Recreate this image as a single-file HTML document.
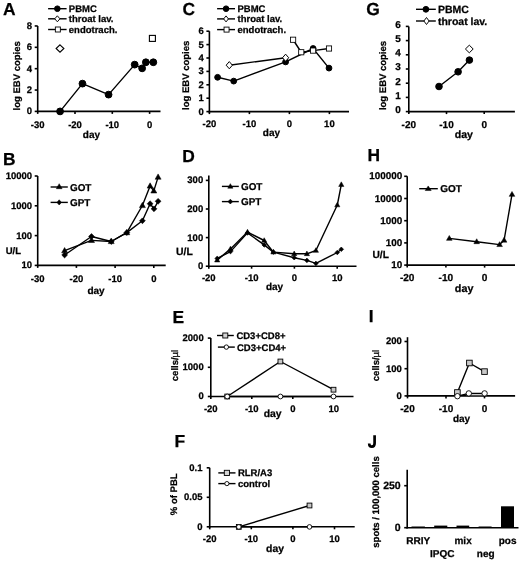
<!DOCTYPE html>
<html><head><meta charset="utf-8"><style>
html,body{margin:0;padding:0;background:#fff;}
body{width:520px;height:562px;overflow:hidden;}
svg{display:block;font-family:"Liberation Sans",sans-serif;will-change:transform;text-rendering:geometricPrecision;}
text{stroke:#000;stroke-width:0.25px;}
</style></head><body>
<svg width="520" height="562" viewBox="0 0 520 562">
<rect width="520" height="562" fill="#fff"/>
<text x="3.00" y="14.53" font-size="17.4" text-anchor="start" font-weight="bold">A</text>
<line x1="37.70" y1="25.96" x2="37.70" y2="112.20" stroke="#000" stroke-width="1.6"/>
<line x1="34.70" y1="111.40" x2="37.70" y2="111.40" stroke="#000" stroke-width="1.6"/>
<text x="32.10" y="114.32" font-size="9.5" text-anchor="end" font-weight="bold">0</text>
<line x1="34.70" y1="90.04" x2="37.70" y2="90.04" stroke="#000" stroke-width="1.6"/>
<text x="32.10" y="92.96" font-size="9.5" text-anchor="end" font-weight="bold">2</text>
<line x1="34.70" y1="68.68" x2="37.70" y2="68.68" stroke="#000" stroke-width="1.6"/>
<text x="32.10" y="71.60" font-size="9.5" text-anchor="end" font-weight="bold">4</text>
<line x1="34.70" y1="47.32" x2="37.70" y2="47.32" stroke="#000" stroke-width="1.6"/>
<text x="32.10" y="50.24" font-size="9.5" text-anchor="end" font-weight="bold">6</text>
<line x1="34.70" y1="25.96" x2="37.70" y2="25.96" stroke="#000" stroke-width="1.6"/>
<text x="32.10" y="28.88" font-size="9.5" text-anchor="end" font-weight="bold">8</text>
<line x1="36.90" y1="111.40" x2="160.50" y2="111.40" stroke="#000" stroke-width="1.6"/>
<line x1="37.70" y1="111.40" x2="37.70" y2="113.90" stroke="#000" stroke-width="1.6"/>
<text x="37.70" y="128.12" font-size="9.5" text-anchor="middle" font-weight="bold">-30</text>
<line x1="75.00" y1="111.40" x2="75.00" y2="113.90" stroke="#000" stroke-width="1.6"/>
<text x="75.00" y="128.12" font-size="9.5" text-anchor="middle" font-weight="bold">-20</text>
<line x1="112.30" y1="111.40" x2="112.30" y2="113.90" stroke="#000" stroke-width="1.6"/>
<text x="112.30" y="128.12" font-size="9.5" text-anchor="middle" font-weight="bold">-10</text>
<line x1="149.60" y1="111.40" x2="149.60" y2="113.90" stroke="#000" stroke-width="1.6"/>
<text x="149.60" y="128.12" font-size="9.5" text-anchor="middle" font-weight="bold">0</text>
<text transform="translate(20.47,75.80) rotate(-90)" font-size="9.5" text-anchor="middle" font-weight="bold">log EBV copies</text>
<text x="91.40" y="137.90" font-size="10.0" text-anchor="middle" font-weight="bold">day</text>
<line x1="48.10" y1="8.70" x2="66.60" y2="8.70" stroke="#000" stroke-width="1.4"/>
<circle cx="57.35" cy="8.70" r="2.8" fill="#000" stroke="#000" stroke-width="1.0"/>
<text x="68.80" y="12.12" font-size="9.5" text-anchor="start" font-weight="bold">PBMC</text>
<line x1="48.10" y1="18.80" x2="66.60" y2="18.80" stroke="#000" stroke-width="1.4"/>
<path d="M57.35 15.80L59.95 18.80L57.35 21.80L54.75 18.80Z" fill="#fff" stroke="#000" stroke-width="0.95"/>
<text x="68.80" y="22.22" font-size="9.5" text-anchor="start" font-weight="bold">throat lav.</text>
<line x1="48.10" y1="29.50" x2="66.60" y2="29.50" stroke="#000" stroke-width="1.4"/>
<rect x="55.35" y="27.00" width="5.00" height="5.00" fill="#fff" stroke="#000" stroke-width="0.9"/>
<text x="68.80" y="32.92" font-size="9.5" text-anchor="start" font-weight="bold">endotrach.</text>
<polyline points="60.08,111.40 82.46,83.63 108.57,94.63 134.68,64.62 142.14,68.36 145.87,62.27 153.33,62.27" fill="none" stroke="#000" stroke-width="1.4" stroke-linejoin="round"/>
<circle cx="60.08" cy="111.40" r="3.4" fill="#000" stroke="#000" stroke-width="1.0"/>
<circle cx="82.46" cy="83.63" r="3.4" fill="#000" stroke="#000" stroke-width="1.0"/>
<circle cx="108.57" cy="94.63" r="3.4" fill="#000" stroke="#000" stroke-width="1.0"/>
<circle cx="134.68" cy="64.62" r="3.4" fill="#000" stroke="#000" stroke-width="1.0"/>
<circle cx="142.14" cy="68.36" r="3.4" fill="#000" stroke="#000" stroke-width="1.0"/>
<circle cx="145.87" cy="62.27" r="3.4" fill="#000" stroke="#000" stroke-width="1.0"/>
<circle cx="153.33" cy="62.27" r="3.4" fill="#000" stroke="#000" stroke-width="1.0"/>
<path d="M60.00 44.80L63.90 48.50L60.00 52.20L56.10 48.50Z" fill="#fff" stroke="#000" stroke-width="1.1"/>
<rect x="149.40" y="35.40" width="6.00" height="6.00" fill="#fff" stroke="#000" stroke-width="1.1"/>
<text x="3.00" y="164.93" font-size="17.4" text-anchor="start" font-weight="bold">B</text>
<line x1="37.70" y1="176.00" x2="37.70" y2="266.20" stroke="#000" stroke-width="1.6"/>
<line x1="34.70" y1="265.40" x2="37.70" y2="265.40" stroke="#000" stroke-width="1.6"/>
<text x="32.10" y="268.32" font-size="9.5" text-anchor="end" font-weight="bold">10</text>
<line x1="34.70" y1="235.60" x2="37.70" y2="235.60" stroke="#000" stroke-width="1.6"/>
<text x="32.10" y="238.52" font-size="9.5" text-anchor="end" font-weight="bold">100</text>
<line x1="34.70" y1="205.80" x2="37.70" y2="205.80" stroke="#000" stroke-width="1.6"/>
<text x="32.10" y="208.72" font-size="9.5" text-anchor="end" font-weight="bold">1000</text>
<line x1="34.70" y1="176.00" x2="37.70" y2="176.00" stroke="#000" stroke-width="1.6"/>
<text x="32.10" y="178.92" font-size="9.5" text-anchor="end" font-weight="bold">10000</text>
<line x1="36.90" y1="265.40" x2="165.70" y2="265.40" stroke="#000" stroke-width="1.6"/>
<line x1="37.70" y1="265.40" x2="37.70" y2="267.90" stroke="#000" stroke-width="1.6"/>
<text x="37.70" y="281.62" font-size="9.5" text-anchor="middle" font-weight="bold">-30</text>
<line x1="76.40" y1="265.40" x2="76.40" y2="267.90" stroke="#000" stroke-width="1.6"/>
<text x="76.40" y="281.62" font-size="9.5" text-anchor="middle" font-weight="bold">-20</text>
<line x1="115.10" y1="265.40" x2="115.10" y2="267.90" stroke="#000" stroke-width="1.6"/>
<text x="115.10" y="281.62" font-size="9.5" text-anchor="middle" font-weight="bold">-10</text>
<line x1="153.80" y1="265.40" x2="153.80" y2="267.90" stroke="#000" stroke-width="1.6"/>
<text x="153.80" y="281.62" font-size="9.5" text-anchor="middle" font-weight="bold">0</text>
<text x="13.40" y="254.42" font-size="9.5" text-anchor="middle" font-weight="bold">U/L</text>
<text x="96.00" y="293.70" font-size="10.0" text-anchor="middle" font-weight="bold">day</text>
<line x1="50.60" y1="187.00" x2="67.80" y2="187.00" stroke="#000" stroke-width="1.4"/>
<path d="M59.20 183.70L62.10 188.70L56.30 188.70Z" fill="#000" stroke="#000" stroke-width="0.5" stroke-linejoin="miter"/>
<text x="70.00" y="190.56" font-size="9.9" text-anchor="start" font-weight="bold">GOT</text>
<line x1="50.60" y1="202.40" x2="67.80" y2="202.40" stroke="#000" stroke-width="1.4"/>
<path d="M59.20 199.80L61.40 202.40L59.20 205.00L57.00 202.40Z" fill="#000" stroke="#000" stroke-width="0.6"/>
<text x="70.00" y="205.96" font-size="9.9" text-anchor="start" font-weight="bold">GPT</text>
<polyline points="64.60,250.70 91.50,240.40 111.20,241.50 126.80,232.60 142.40,205.50 150.10,186.00 153.80,190.90 158.10,177.10" fill="none" stroke="#000" stroke-width="1.4" stroke-linejoin="round"/>
<polyline points="64.60,255.00 91.50,236.50 111.20,241.50 126.80,232.60 142.40,220.80 150.10,203.70 154.00,208.80 158.10,201.30" fill="none" stroke="#000" stroke-width="1.4" stroke-linejoin="round"/>
<path d="M64.60 247.52L67.60 252.82L61.60 252.82Z" fill="#000" stroke="#000" stroke-width="0.5" stroke-linejoin="miter"/>
<path d="M91.50 237.22L94.50 242.52L88.50 242.52Z" fill="#000" stroke="#000" stroke-width="0.5" stroke-linejoin="miter"/>
<path d="M111.20 238.32L114.20 243.62L108.20 243.62Z" fill="#000" stroke="#000" stroke-width="0.5" stroke-linejoin="miter"/>
<path d="M126.80 229.42L129.80 234.72L123.80 234.72Z" fill="#000" stroke="#000" stroke-width="0.5" stroke-linejoin="miter"/>
<path d="M142.40 202.32L145.40 207.62L139.40 207.62Z" fill="#000" stroke="#000" stroke-width="0.5" stroke-linejoin="miter"/>
<path d="M150.10 182.82L153.10 188.12L147.10 188.12Z" fill="#000" stroke="#000" stroke-width="0.5" stroke-linejoin="miter"/>
<path d="M153.80 187.72L156.80 193.02L150.80 193.02Z" fill="#000" stroke="#000" stroke-width="0.5" stroke-linejoin="miter"/>
<path d="M158.10 173.92L161.10 179.22L155.10 179.22Z" fill="#000" stroke="#000" stroke-width="0.5" stroke-linejoin="miter"/>
<path d="M64.60 252.10L67.50 255.00L64.60 257.90L61.70 255.00Z" fill="#000" stroke="#000" stroke-width="0.6"/>
<path d="M91.50 233.60L94.40 236.50L91.50 239.40L88.60 236.50Z" fill="#000" stroke="#000" stroke-width="0.6"/>
<path d="M111.20 238.60L114.10 241.50L111.20 244.40L108.30 241.50Z" fill="#000" stroke="#000" stroke-width="0.6"/>
<path d="M126.80 229.70L129.70 232.60L126.80 235.50L123.90 232.60Z" fill="#000" stroke="#000" stroke-width="0.6"/>
<path d="M142.40 217.90L145.30 220.80L142.40 223.70L139.50 220.80Z" fill="#000" stroke="#000" stroke-width="0.6"/>
<path d="M150.10 200.80L153.00 203.70L150.10 206.60L147.20 203.70Z" fill="#000" stroke="#000" stroke-width="0.6"/>
<path d="M154.00 205.90L156.90 208.80L154.00 211.70L151.10 208.80Z" fill="#000" stroke="#000" stroke-width="0.6"/>
<path d="M158.10 198.40L161.00 201.30L158.10 204.20L155.20 201.30Z" fill="#000" stroke="#000" stroke-width="0.6"/>
<text x="182.50" y="14.83" font-size="17.4" text-anchor="start" font-weight="bold">C</text>
<line x1="209.40" y1="31.20" x2="209.40" y2="112.40" stroke="#000" stroke-width="1.6"/>
<line x1="206.40" y1="111.60" x2="209.40" y2="111.60" stroke="#000" stroke-width="1.6"/>
<text x="203.80" y="114.52" font-size="9.5" text-anchor="end" font-weight="bold">0</text>
<line x1="206.40" y1="98.20" x2="209.40" y2="98.20" stroke="#000" stroke-width="1.6"/>
<text x="203.80" y="101.12" font-size="9.5" text-anchor="end" font-weight="bold">1</text>
<line x1="206.40" y1="84.80" x2="209.40" y2="84.80" stroke="#000" stroke-width="1.6"/>
<text x="203.80" y="87.72" font-size="9.5" text-anchor="end" font-weight="bold">2</text>
<line x1="206.40" y1="71.40" x2="209.40" y2="71.40" stroke="#000" stroke-width="1.6"/>
<text x="203.80" y="74.32" font-size="9.5" text-anchor="end" font-weight="bold">3</text>
<line x1="206.40" y1="58.00" x2="209.40" y2="58.00" stroke="#000" stroke-width="1.6"/>
<text x="203.80" y="60.92" font-size="9.5" text-anchor="end" font-weight="bold">4</text>
<line x1="206.40" y1="44.60" x2="209.40" y2="44.60" stroke="#000" stroke-width="1.6"/>
<text x="203.80" y="47.52" font-size="9.5" text-anchor="end" font-weight="bold">5</text>
<line x1="206.40" y1="31.20" x2="209.40" y2="31.20" stroke="#000" stroke-width="1.6"/>
<text x="203.80" y="34.12" font-size="9.5" text-anchor="end" font-weight="bold">6</text>
<line x1="208.60" y1="111.60" x2="349.00" y2="111.60" stroke="#000" stroke-width="1.6"/>
<line x1="209.40" y1="111.60" x2="209.40" y2="114.10" stroke="#000" stroke-width="1.6"/>
<text x="209.40" y="126.82" font-size="9.5" text-anchor="middle" font-weight="bold">-20</text>
<line x1="249.40" y1="111.60" x2="249.40" y2="114.10" stroke="#000" stroke-width="1.6"/>
<text x="249.40" y="126.82" font-size="9.5" text-anchor="middle" font-weight="bold">-10</text>
<line x1="289.40" y1="111.60" x2="289.40" y2="114.10" stroke="#000" stroke-width="1.6"/>
<text x="289.40" y="126.82" font-size="9.5" text-anchor="middle" font-weight="bold">0</text>
<line x1="329.40" y1="111.60" x2="329.40" y2="114.10" stroke="#000" stroke-width="1.6"/>
<text x="329.40" y="126.82" font-size="9.5" text-anchor="middle" font-weight="bold">10</text>
<text transform="translate(189.37,75.30) rotate(-90)" font-size="9.5" text-anchor="middle" font-weight="bold">log EBV copies</text>
<text x="271.40" y="135.70" font-size="10.0" text-anchor="middle" font-weight="bold">day</text>
<line x1="217.10" y1="8.70" x2="235.00" y2="8.70" stroke="#000" stroke-width="1.4"/>
<circle cx="226.05" cy="8.70" r="2.8" fill="#000" stroke="#000" stroke-width="1.0"/>
<text x="237.50" y="12.12" font-size="9.5" text-anchor="start" font-weight="bold">PBMC</text>
<line x1="217.10" y1="18.90" x2="235.00" y2="18.90" stroke="#000" stroke-width="1.4"/>
<path d="M226.05 15.90L228.45 18.90L226.05 21.90L223.65 18.90Z" fill="#fff" stroke="#000" stroke-width="0.95"/>
<text x="237.50" y="22.32" font-size="9.5" text-anchor="start" font-weight="bold">throat lav.</text>
<line x1="217.10" y1="29.60" x2="235.00" y2="29.60" stroke="#000" stroke-width="1.4"/>
<rect x="224.05" y="27.10" width="5.00" height="5.00" fill="#fff" stroke="#000" stroke-width="0.9"/>
<text x="237.50" y="33.02" font-size="9.5" text-anchor="start" font-weight="bold">endotrach.</text>
<polyline points="217.60,77.30 233.70,81.10 285.60,61.90 313.10,48.50 329.00,68.10" fill="none" stroke="#000" stroke-width="1.4" stroke-linejoin="round"/>
<polyline points="229.30,65.20 285.60,57.75" fill="none" stroke="#000" stroke-width="1.4" stroke-linejoin="round"/>
<polyline points="293.10,39.75 301.25,52.25 313.10,50.60 329.00,48.50" fill="none" stroke="#000" stroke-width="1.4" stroke-linejoin="round"/>
<circle cx="217.60" cy="77.30" r="2.9" fill="#000" stroke="#000" stroke-width="1.0"/>
<circle cx="233.70" cy="81.10" r="2.9" fill="#000" stroke="#000" stroke-width="1.0"/>
<circle cx="285.60" cy="61.90" r="2.9" fill="#000" stroke="#000" stroke-width="1.0"/>
<circle cx="313.10" cy="48.50" r="2.9" fill="#000" stroke="#000" stroke-width="1.0"/>
<circle cx="329.00" cy="68.10" r="2.9" fill="#000" stroke="#000" stroke-width="1.0"/>
<path d="M229.30 61.60L232.40 65.20L229.30 68.80L226.20 65.20Z" fill="#fff" stroke="#000" stroke-width="1.0"/>
<path d="M285.60 54.15L288.70 57.75L285.60 61.35L282.50 57.75Z" fill="#fff" stroke="#000" stroke-width="1.0"/>
<rect x="290.50" y="37.15" width="5.20" height="5.20" fill="#fff" stroke="#000" stroke-width="0.85"/>
<rect x="298.65" y="49.65" width="5.20" height="5.20" fill="#fff" stroke="#000" stroke-width="0.85"/>
<rect x="310.50" y="48.00" width="5.20" height="5.20" fill="#fff" stroke="#000" stroke-width="0.85"/>
<rect x="326.40" y="45.90" width="5.20" height="5.20" fill="#fff" stroke="#000" stroke-width="0.85"/>
<text x="182.30" y="162.23" font-size="17.4" text-anchor="start" font-weight="bold">D</text>
<line x1="208.80" y1="175.50" x2="208.80" y2="267.00" stroke="#000" stroke-width="1.6"/>
<line x1="205.80" y1="266.20" x2="208.80" y2="266.20" stroke="#000" stroke-width="1.6"/>
<text x="203.20" y="269.12" font-size="9.5" text-anchor="end" font-weight="bold">0</text>
<line x1="205.80" y1="237.60" x2="208.80" y2="237.60" stroke="#000" stroke-width="1.6"/>
<text x="203.20" y="240.52" font-size="9.5" text-anchor="end" font-weight="bold">100</text>
<line x1="205.80" y1="209.00" x2="208.80" y2="209.00" stroke="#000" stroke-width="1.6"/>
<text x="203.20" y="211.92" font-size="9.5" text-anchor="end" font-weight="bold">200</text>
<line x1="205.80" y1="180.40" x2="208.80" y2="180.40" stroke="#000" stroke-width="1.6"/>
<text x="203.20" y="183.32" font-size="9.5" text-anchor="end" font-weight="bold">300</text>
<line x1="208.00" y1="266.20" x2="356.50" y2="266.20" stroke="#000" stroke-width="1.6"/>
<line x1="208.80" y1="266.20" x2="208.80" y2="268.70" stroke="#000" stroke-width="1.6"/>
<text x="208.80" y="281.22" font-size="9.5" text-anchor="middle" font-weight="bold">-20</text>
<line x1="251.60" y1="266.20" x2="251.60" y2="268.70" stroke="#000" stroke-width="1.6"/>
<text x="251.60" y="281.22" font-size="9.5" text-anchor="middle" font-weight="bold">-10</text>
<line x1="294.40" y1="266.20" x2="294.40" y2="268.70" stroke="#000" stroke-width="1.6"/>
<text x="294.40" y="281.22" font-size="9.5" text-anchor="middle" font-weight="bold">0</text>
<line x1="337.20" y1="266.20" x2="337.20" y2="268.70" stroke="#000" stroke-width="1.6"/>
<text x="337.20" y="281.22" font-size="9.5" text-anchor="middle" font-weight="bold">10</text>
<text x="184.40" y="254.64" font-size="10.4" text-anchor="middle" font-weight="bold">U/L</text>
<text x="274.50" y="289.60" font-size="10.0" text-anchor="middle" font-weight="bold">day</text>
<line x1="221.90" y1="186.40" x2="238.80" y2="186.40" stroke="#000" stroke-width="1.4"/>
<path d="M230.35 183.67L232.95 188.22L227.75 188.22Z" fill="#000" stroke="#000" stroke-width="0.5" stroke-linejoin="miter"/>
<text x="241.00" y="189.96" font-size="9.9" text-anchor="start" font-weight="bold">GOT</text>
<line x1="221.90" y1="201.60" x2="238.80" y2="201.60" stroke="#000" stroke-width="1.4"/>
<path d="M230.35 199.20L232.75 201.60L230.35 204.00L227.95 201.60Z" fill="#000" stroke="#000" stroke-width="0.6"/>
<text x="241.00" y="205.16" font-size="9.9" text-anchor="start" font-weight="bold">GPT</text>
<polyline points="217.20,260.10 230.50,248.90 247.50,232.10 264.20,240.50 273.40,252.10 294.20,253.80 306.90,253.80 315.90,250.50 337.30,205.00 341.30,184.60" fill="none" stroke="#000" stroke-width="1.4" stroke-linejoin="round"/>
<polyline points="217.20,258.40 230.50,251.60 247.50,232.90 264.20,244.90 273.40,252.10 294.20,257.70 306.90,260.40 315.90,263.40 337.30,252.50 341.30,249.30" fill="none" stroke="#000" stroke-width="1.4" stroke-linejoin="round"/>
<path d="M217.20 257.34L219.80 261.94L214.60 261.94Z" fill="#000" stroke="#000" stroke-width="0.5" stroke-linejoin="miter"/>
<path d="M230.50 246.14L233.10 250.74L227.90 250.74Z" fill="#000" stroke="#000" stroke-width="0.5" stroke-linejoin="miter"/>
<path d="M247.50 229.34L250.10 233.94L244.90 233.94Z" fill="#000" stroke="#000" stroke-width="0.5" stroke-linejoin="miter"/>
<path d="M264.20 237.74L266.80 242.34L261.60 242.34Z" fill="#000" stroke="#000" stroke-width="0.5" stroke-linejoin="miter"/>
<path d="M273.40 249.34L276.00 253.94L270.80 253.94Z" fill="#000" stroke="#000" stroke-width="0.5" stroke-linejoin="miter"/>
<path d="M294.20 251.04L296.80 255.64L291.60 255.64Z" fill="#000" stroke="#000" stroke-width="0.5" stroke-linejoin="miter"/>
<path d="M306.90 251.04L309.50 255.64L304.30 255.64Z" fill="#000" stroke="#000" stroke-width="0.5" stroke-linejoin="miter"/>
<path d="M315.90 247.74L318.50 252.34L313.30 252.34Z" fill="#000" stroke="#000" stroke-width="0.5" stroke-linejoin="miter"/>
<path d="M337.30 202.24L339.90 206.84L334.70 206.84Z" fill="#000" stroke="#000" stroke-width="0.5" stroke-linejoin="miter"/>
<path d="M341.30 181.84L343.90 186.44L338.70 186.44Z" fill="#000" stroke="#000" stroke-width="0.5" stroke-linejoin="miter"/>
<path d="M217.20 256.10L219.50 258.40L217.20 260.70L214.90 258.40Z" fill="#000" stroke="#000" stroke-width="0.6"/>
<path d="M230.50 249.30L232.80 251.60L230.50 253.90L228.20 251.60Z" fill="#000" stroke="#000" stroke-width="0.6"/>
<path d="M247.50 230.60L249.80 232.90L247.50 235.20L245.20 232.90Z" fill="#000" stroke="#000" stroke-width="0.6"/>
<path d="M264.20 242.60L266.50 244.90L264.20 247.20L261.90 244.90Z" fill="#000" stroke="#000" stroke-width="0.6"/>
<path d="M273.40 249.80L275.70 252.10L273.40 254.40L271.10 252.10Z" fill="#000" stroke="#000" stroke-width="0.6"/>
<path d="M294.20 255.40L296.50 257.70L294.20 260.00L291.90 257.70Z" fill="#000" stroke="#000" stroke-width="0.6"/>
<path d="M306.90 258.10L309.20 260.40L306.90 262.70L304.60 260.40Z" fill="#000" stroke="#000" stroke-width="0.6"/>
<path d="M315.90 261.10L318.20 263.40L315.90 265.70L313.60 263.40Z" fill="#000" stroke="#000" stroke-width="0.6"/>
<path d="M337.30 250.20L339.60 252.50L337.30 254.80L335.00 252.50Z" fill="#000" stroke="#000" stroke-width="0.6"/>
<path d="M341.30 247.00L343.60 249.30L341.30 251.60L339.00 249.30Z" fill="#000" stroke="#000" stroke-width="0.6"/>
<text x="172.40" y="322.53" font-size="17.4" text-anchor="start" font-weight="bold">E</text>
<line x1="210.80" y1="338.10" x2="210.80" y2="397.30" stroke="#000" stroke-width="1.6"/>
<line x1="207.80" y1="396.50" x2="210.80" y2="396.50" stroke="#000" stroke-width="1.6"/>
<text x="203.70" y="399.42" font-size="9.5" text-anchor="end" font-weight="bold">0</text>
<line x1="207.80" y1="367.30" x2="210.80" y2="367.30" stroke="#000" stroke-width="1.6"/>
<text x="203.70" y="370.22" font-size="9.5" text-anchor="end" font-weight="bold">1000</text>
<line x1="207.80" y1="338.10" x2="210.80" y2="338.10" stroke="#000" stroke-width="1.6"/>
<text x="203.70" y="341.02" font-size="9.5" text-anchor="end" font-weight="bold">2000</text>
<line x1="210.00" y1="396.50" x2="353.50" y2="396.50" stroke="#000" stroke-width="1.6"/>
<line x1="210.80" y1="396.50" x2="210.80" y2="399.00" stroke="#000" stroke-width="1.6"/>
<text x="210.80" y="411.62" font-size="9.5" text-anchor="middle" font-weight="bold">-20</text>
<line x1="251.80" y1="396.50" x2="251.80" y2="399.00" stroke="#000" stroke-width="1.6"/>
<text x="251.80" y="411.62" font-size="9.5" text-anchor="middle" font-weight="bold">-10</text>
<line x1="292.80" y1="396.50" x2="292.80" y2="399.00" stroke="#000" stroke-width="1.6"/>
<text x="292.80" y="411.62" font-size="9.5" text-anchor="middle" font-weight="bold">0</text>
<line x1="333.80" y1="396.50" x2="333.80" y2="399.00" stroke="#000" stroke-width="1.6"/>
<text x="333.80" y="411.62" font-size="9.5" text-anchor="middle" font-weight="bold">10</text>
<text transform="translate(177.77,365.50) rotate(-90)" font-size="9.5" text-anchor="middle" font-weight="bold">cells/<tspan font-weight="normal">&#181;l</tspan></text>
<text x="272.60" y="417.00" font-size="10.4" text-anchor="middle" font-weight="bold">day</text>
<line x1="217.00" y1="335.50" x2="233.80" y2="335.50" stroke="#000" stroke-width="1.4"/>
<rect x="222.80" y="333.00" width="5.00" height="5.00" fill="#d4d4d4" stroke="#000" stroke-width="0.9"/>
<text x="236.40" y="338.92" font-size="9.5" text-anchor="start" font-weight="bold">CD3+CD8+</text>
<line x1="217.90" y1="347.10" x2="234.80" y2="347.10" stroke="#000" stroke-width="1.4"/>
<circle cx="226.35" cy="347.10" r="2.2" fill="#fff" stroke="#000" stroke-width="0.9"/>
<text x="237.00" y="350.52" font-size="9.5" text-anchor="start" font-weight="bold">CD3+CD4+</text>
<polyline points="227.20,396.50 280.40,361.50 333.50,389.70" fill="none" stroke="#000" stroke-width="1.4" stroke-linejoin="round"/>
<polyline points="227.20,396.50 280.40,396.50 333.50,396.50" fill="none" stroke="#000" stroke-width="1.4" stroke-linejoin="round"/>
<rect x="224.80" y="394.10" width="4.80" height="4.80" fill="#c8c8c8" stroke="#000" stroke-width="0.9"/>
<rect x="278.00" y="359.10" width="4.80" height="4.80" fill="#c8c8c8" stroke="#000" stroke-width="0.9"/>
<rect x="331.10" y="387.30" width="4.80" height="4.80" fill="#c8c8c8" stroke="#000" stroke-width="0.9"/>
<circle cx="227.20" cy="396.50" r="2.4" fill="#fff" stroke="#000" stroke-width="0.9"/>
<circle cx="280.40" cy="396.50" r="2.4" fill="#fff" stroke="#000" stroke-width="0.9"/>
<circle cx="333.50" cy="396.50" r="2.4" fill="#fff" stroke="#000" stroke-width="0.9"/>
<text x="174.40" y="447.03" font-size="17.4" text-anchor="start" font-weight="bold">F</text>
<line x1="209.70" y1="467.80" x2="209.70" y2="527.60" stroke="#000" stroke-width="1.6"/>
<line x1="206.70" y1="526.80" x2="209.70" y2="526.80" stroke="#000" stroke-width="1.6"/>
<text x="202.50" y="529.72" font-size="9.5" text-anchor="end" font-weight="bold">0</text>
<line x1="206.70" y1="497.30" x2="209.70" y2="497.30" stroke="#000" stroke-width="1.6"/>
<text x="202.50" y="500.22" font-size="9.5" text-anchor="end" font-weight="bold">0.05</text>
<line x1="206.70" y1="467.80" x2="209.70" y2="467.80" stroke="#000" stroke-width="1.6"/>
<text x="202.50" y="470.72" font-size="9.5" text-anchor="end" font-weight="bold">0.1</text>
<line x1="208.90" y1="526.80" x2="354.70" y2="526.80" stroke="#000" stroke-width="1.6"/>
<line x1="209.70" y1="526.80" x2="209.70" y2="529.30" stroke="#000" stroke-width="1.6"/>
<text x="209.70" y="541.82" font-size="9.5" text-anchor="middle" font-weight="bold">-20</text>
<line x1="251.30" y1="526.80" x2="251.30" y2="529.30" stroke="#000" stroke-width="1.6"/>
<text x="251.30" y="541.82" font-size="9.5" text-anchor="middle" font-weight="bold">-10</text>
<line x1="292.90" y1="526.80" x2="292.90" y2="529.30" stroke="#000" stroke-width="1.6"/>
<text x="292.90" y="541.82" font-size="9.5" text-anchor="middle" font-weight="bold">0</text>
<line x1="334.50" y1="526.80" x2="334.50" y2="529.30" stroke="#000" stroke-width="1.6"/>
<text x="334.50" y="541.82" font-size="9.5" text-anchor="middle" font-weight="bold">10</text>
<text transform="translate(177.37,494.30) rotate(-90)" font-size="9.5" text-anchor="middle" font-weight="bold">% of PBL</text>
<text x="275.00" y="551.50" font-size="10.4" text-anchor="middle" font-weight="bold">day</text>
<line x1="218.30" y1="472.90" x2="235.50" y2="472.90" stroke="#000" stroke-width="1.4"/>
<rect x="224.30" y="470.30" width="5.20" height="5.20" fill="#d4d4d4" stroke="#000" stroke-width="0.9"/>
<text x="237.90" y="476.32" font-size="9.5" text-anchor="start" font-weight="bold">RLR/A3</text>
<line x1="218.30" y1="483.60" x2="235.50" y2="483.60" stroke="#000" stroke-width="1.4"/>
<circle cx="226.90" cy="483.60" r="2.1" fill="#fff" stroke="#000" stroke-width="0.9"/>
<text x="237.90" y="487.02" font-size="9.5" text-anchor="start" font-weight="bold">control</text>
<polyline points="238.80,526.90 309.50,505.50" fill="none" stroke="#000" stroke-width="1.4" stroke-linejoin="round"/>
<polyline points="238.80,526.90 309.50,526.90" fill="none" stroke="#000" stroke-width="1.4" stroke-linejoin="round"/>
<rect x="236.40" y="524.50" width="4.80" height="4.80" fill="#c8c8c8" stroke="#000" stroke-width="0.9"/>
<rect x="307.10" y="503.10" width="4.80" height="4.80" fill="#c8c8c8" stroke="#000" stroke-width="0.9"/>
<circle cx="238.80" cy="526.90" r="2.3" fill="#fff" stroke="#000" stroke-width="0.9"/>
<circle cx="309.50" cy="526.90" r="2.3" fill="#fff" stroke="#000" stroke-width="0.9"/>
<text x="366.30" y="15.33" font-size="17.4" text-anchor="start" font-weight="bold">G</text>
<line x1="408.80" y1="26.40" x2="408.80" y2="112.40" stroke="#000" stroke-width="1.6"/>
<line x1="405.80" y1="111.60" x2="408.80" y2="111.60" stroke="#000" stroke-width="1.6"/>
<text x="400.90" y="112.90" font-size="10.0" text-anchor="end" font-weight="bold">0</text>
<line x1="405.80" y1="97.40" x2="408.80" y2="97.40" stroke="#000" stroke-width="1.6"/>
<text x="400.90" y="98.70" font-size="10.0" text-anchor="end" font-weight="bold">1</text>
<line x1="405.80" y1="83.20" x2="408.80" y2="83.20" stroke="#000" stroke-width="1.6"/>
<text x="400.90" y="84.50" font-size="10.0" text-anchor="end" font-weight="bold">2</text>
<line x1="405.80" y1="69.00" x2="408.80" y2="69.00" stroke="#000" stroke-width="1.6"/>
<text x="400.90" y="70.30" font-size="10.0" text-anchor="end" font-weight="bold">3</text>
<line x1="405.80" y1="54.80" x2="408.80" y2="54.80" stroke="#000" stroke-width="1.6"/>
<text x="400.90" y="56.10" font-size="10.0" text-anchor="end" font-weight="bold">4</text>
<line x1="405.80" y1="40.60" x2="408.80" y2="40.60" stroke="#000" stroke-width="1.6"/>
<text x="400.90" y="41.90" font-size="10.0" text-anchor="end" font-weight="bold">5</text>
<line x1="405.80" y1="26.40" x2="408.80" y2="26.40" stroke="#000" stroke-width="1.6"/>
<text x="400.90" y="27.70" font-size="10.0" text-anchor="end" font-weight="bold">6</text>
<line x1="408.00" y1="111.60" x2="514.90" y2="111.60" stroke="#000" stroke-width="1.6"/>
<line x1="408.80" y1="111.60" x2="408.80" y2="114.10" stroke="#000" stroke-width="1.6"/>
<text x="408.80" y="128.20" font-size="10.0" text-anchor="middle" font-weight="bold">-20</text>
<line x1="446.50" y1="111.60" x2="446.50" y2="114.10" stroke="#000" stroke-width="1.6"/>
<text x="446.50" y="128.20" font-size="10.0" text-anchor="middle" font-weight="bold">-10</text>
<line x1="484.20" y1="111.60" x2="484.20" y2="114.10" stroke="#000" stroke-width="1.6"/>
<text x="484.20" y="128.20" font-size="10.0" text-anchor="middle" font-weight="bold">0</text>
<text transform="translate(385.57,75.50) rotate(-90)" font-size="9.5" text-anchor="middle" font-weight="bold">log EBV copies</text>
<text x="463.80" y="138.26" font-size="10.6" text-anchor="middle" font-weight="bold">day</text>
<line x1="416.00" y1="9.30" x2="435.80" y2="9.30" stroke="#000" stroke-width="1.4"/>
<circle cx="425.90" cy="9.30" r="2.9" fill="#000" stroke="#000" stroke-width="1.0"/>
<text x="437.90" y="13.08" font-size="10.5" text-anchor="start" font-weight="bold">PBMC</text>
<line x1="416.00" y1="21.00" x2="435.80" y2="21.00" stroke="#000" stroke-width="1.4"/>
<path d="M426.50 17.50L429.10 21.00L426.50 24.50L423.90 21.00Z" fill="#fff" stroke="#000" stroke-width="0.95"/>
<text x="437.90" y="24.78" font-size="10.5" text-anchor="start" font-weight="bold">throat lav.</text>
<polyline points="439.00,86.50 458.10,71.80 469.40,60.10" fill="none" stroke="#000" stroke-width="1.4" stroke-linejoin="round"/>
<circle cx="439.00" cy="86.50" r="3.3" fill="#000" stroke="#000" stroke-width="1.0"/>
<circle cx="458.10" cy="71.80" r="3.3" fill="#000" stroke="#000" stroke-width="1.0"/>
<circle cx="469.40" cy="60.10" r="3.3" fill="#000" stroke="#000" stroke-width="1.0"/>
<path d="M469.30 45.20L473.20 49.00L469.30 52.80L465.40 49.00Z" fill="#fff" stroke="#000" stroke-width="1.0"/>
<text x="367.50" y="160.83" font-size="17.4" text-anchor="start" font-weight="bold">H</text>
<line x1="407.20" y1="176.30" x2="407.20" y2="265.90" stroke="#000" stroke-width="1.6"/>
<line x1="404.20" y1="265.10" x2="407.20" y2="265.10" stroke="#000" stroke-width="1.6"/>
<text x="402.30" y="268.16" font-size="9.9" text-anchor="end" font-weight="bold">10</text>
<line x1="404.20" y1="242.90" x2="407.20" y2="242.90" stroke="#000" stroke-width="1.6"/>
<text x="402.30" y="245.96" font-size="9.9" text-anchor="end" font-weight="bold">100</text>
<line x1="404.20" y1="220.70" x2="407.20" y2="220.70" stroke="#000" stroke-width="1.6"/>
<text x="402.30" y="223.76" font-size="9.9" text-anchor="end" font-weight="bold">1000</text>
<line x1="404.20" y1="198.50" x2="407.20" y2="198.50" stroke="#000" stroke-width="1.6"/>
<text x="402.30" y="201.56" font-size="9.9" text-anchor="end" font-weight="bold">10000</text>
<line x1="404.20" y1="176.30" x2="407.20" y2="176.30" stroke="#000" stroke-width="1.6"/>
<text x="402.30" y="179.36" font-size="9.9" text-anchor="end" font-weight="bold">100000</text>
<line x1="406.40" y1="265.10" x2="515.00" y2="265.10" stroke="#000" stroke-width="1.6"/>
<line x1="407.20" y1="265.10" x2="407.20" y2="267.60" stroke="#000" stroke-width="1.6"/>
<text x="407.20" y="280.84" font-size="10.1" text-anchor="middle" font-weight="bold">-20</text>
<line x1="445.90" y1="265.10" x2="445.90" y2="267.60" stroke="#000" stroke-width="1.6"/>
<text x="445.90" y="280.84" font-size="10.1" text-anchor="middle" font-weight="bold">-10</text>
<line x1="484.60" y1="265.10" x2="484.60" y2="267.60" stroke="#000" stroke-width="1.6"/>
<text x="484.60" y="280.84" font-size="10.1" text-anchor="middle" font-weight="bold">0</text>
<text x="380.70" y="257.57" font-size="10.2" text-anchor="middle" font-weight="bold">U/L</text>
<text x="464.10" y="291.71" font-size="10.8" text-anchor="middle" font-weight="bold">day</text>
<line x1="419.20" y1="188.70" x2="437.80" y2="188.70" stroke="#000" stroke-width="1.4"/>
<path d="M428.20 185.94L431.20 190.54L425.20 190.54Z" fill="#000" stroke="#000" stroke-width="0.5" stroke-linejoin="miter"/>
<text x="440.30" y="192.30" font-size="10.0" text-anchor="start" font-weight="bold">GOT</text>
<polyline points="449.30,238.40 476.70,241.70 499.60,244.60 504.10,240.20 512.00,194.40" fill="none" stroke="#000" stroke-width="1.4" stroke-linejoin="round"/>
<path d="M449.30 235.46L452.10 240.36L446.50 240.36Z" fill="#000" stroke="#000" stroke-width="0.5" stroke-linejoin="miter"/>
<path d="M476.70 238.76L479.50 243.66L473.90 243.66Z" fill="#000" stroke="#000" stroke-width="0.5" stroke-linejoin="miter"/>
<path d="M499.60 241.66L502.40 246.56L496.80 246.56Z" fill="#000" stroke="#000" stroke-width="0.5" stroke-linejoin="miter"/>
<path d="M504.10 237.26L506.90 242.16L501.30 242.16Z" fill="#000" stroke="#000" stroke-width="0.5" stroke-linejoin="miter"/>
<path d="M512.00 191.46L514.80 196.36L509.20 196.36Z" fill="#000" stroke="#000" stroke-width="0.5" stroke-linejoin="miter"/>
<text x="368.80" y="322.23" font-size="17.4" text-anchor="start" font-weight="bold">I</text>
<line x1="407.50" y1="337.20" x2="407.50" y2="396.70" stroke="#000" stroke-width="1.6"/>
<line x1="404.50" y1="395.90" x2="407.50" y2="395.90" stroke="#000" stroke-width="1.6"/>
<text x="401.90" y="398.82" font-size="9.5" text-anchor="end" font-weight="bold">0</text>
<line x1="404.50" y1="368.70" x2="407.50" y2="368.70" stroke="#000" stroke-width="1.6"/>
<text x="401.90" y="371.62" font-size="9.5" text-anchor="end" font-weight="bold">100</text>
<line x1="404.50" y1="341.50" x2="407.50" y2="341.50" stroke="#000" stroke-width="1.6"/>
<text x="401.90" y="344.42" font-size="9.5" text-anchor="end" font-weight="bold">200</text>
<line x1="406.70" y1="395.90" x2="515.10" y2="395.90" stroke="#000" stroke-width="1.6"/>
<line x1="407.50" y1="395.90" x2="407.50" y2="398.40" stroke="#000" stroke-width="1.6"/>
<text x="407.50" y="411.90" font-size="10.0" text-anchor="middle" font-weight="bold">-20</text>
<line x1="446.00" y1="395.90" x2="446.00" y2="398.40" stroke="#000" stroke-width="1.6"/>
<text x="446.00" y="411.90" font-size="10.0" text-anchor="middle" font-weight="bold">-10</text>
<line x1="484.50" y1="395.90" x2="484.50" y2="398.40" stroke="#000" stroke-width="1.6"/>
<text x="484.50" y="411.90" font-size="10.0" text-anchor="middle" font-weight="bold">0</text>
<text transform="translate(379.17,365.50) rotate(-90)" font-size="9.5" text-anchor="middle" font-weight="bold">cells/<tspan font-weight="normal">&#181;l</tspan></text>
<text x="461.50" y="422.30" font-size="10.0" text-anchor="middle" font-weight="bold">day</text>
<polyline points="457.40,392.50 469.40,363.00 484.50,371.60" fill="none" stroke="#000" stroke-width="1.4" stroke-linejoin="round"/>
<polyline points="457.40,396.20 468.80,393.40 484.60,393.40" fill="none" stroke="#000" stroke-width="1.4" stroke-linejoin="round"/>
<line x1="470.00" y1="395.00" x2="483.00" y2="395.00" stroke="#999" stroke-width="1.0"/>
<rect x="454.60" y="389.70" width="5.60" height="5.60" fill="#c8c8c8" stroke="#000" stroke-width="0.9"/>
<rect x="466.60" y="360.20" width="5.60" height="5.60" fill="#c8c8c8" stroke="#000" stroke-width="0.9"/>
<rect x="481.70" y="368.80" width="5.60" height="5.60" fill="#c8c8c8" stroke="#000" stroke-width="0.9"/>
<circle cx="457.40" cy="396.20" r="2.7" fill="#fff" stroke="#000" stroke-width="0.9"/>
<circle cx="468.80" cy="393.40" r="2.7" fill="#fff" stroke="#000" stroke-width="0.9"/>
<circle cx="484.60" cy="393.40" r="2.7" fill="#fff" stroke="#000" stroke-width="0.9"/>
<path d="M374.6 435.2V443.2Q374.6 446.6 371.9 446.6Q369.2 446.6 369.2 443.4" fill="none" stroke="#000" stroke-width="2.7"/>
<line x1="407.20" y1="469.70" x2="407.20" y2="528.50" stroke="#000" stroke-width="1.6"/>
<line x1="404.20" y1="527.70" x2="407.20" y2="527.70" stroke="#000" stroke-width="1.6"/>
<text x="400.70" y="530.98" font-size="10.5" text-anchor="end" font-weight="bold">0</text>
<line x1="404.20" y1="485.70" x2="407.20" y2="485.70" stroke="#000" stroke-width="1.6"/>
<text x="400.70" y="488.98" font-size="10.5" text-anchor="end" font-weight="bold">250</text>
<line x1="406.40" y1="527.70" x2="518.50" y2="527.70" stroke="#000" stroke-width="1.6"/>
<rect x="411.5" y="526.5" width="13.40" height="1.20" fill="#000"/>
<rect x="434.2" y="525.6" width="13.10" height="2.10" fill="#000"/>
<rect x="456.5" y="525.6" width="12.70" height="2.10" fill="#000"/>
<rect x="478.6" y="526.5" width="13.00" height="1.20" fill="#000"/>
<rect x="501.0" y="506.3" width="13.00" height="21.40" fill="#000"/>
<text x="418.20" y="544.30" font-size="10" text-anchor="middle" font-weight="bold">RRIY</text>
<text x="463.10" y="544.30" font-size="10" text-anchor="middle" font-weight="bold">mix</text>
<text x="507.60" y="544.30" font-size="10" text-anchor="middle" font-weight="bold">pos</text>
<text x="442.30" y="557.40" font-size="10" text-anchor="middle" font-weight="bold">IPQC</text>
<text x="485.70" y="557.40" font-size="10" text-anchor="middle" font-weight="bold">neg</text>
<text transform="translate(378.67,502.00) rotate(-90)" font-size="9.5" text-anchor="middle" font-weight="bold">spots / 100,000 cells</text>
</svg>
</body></html>
